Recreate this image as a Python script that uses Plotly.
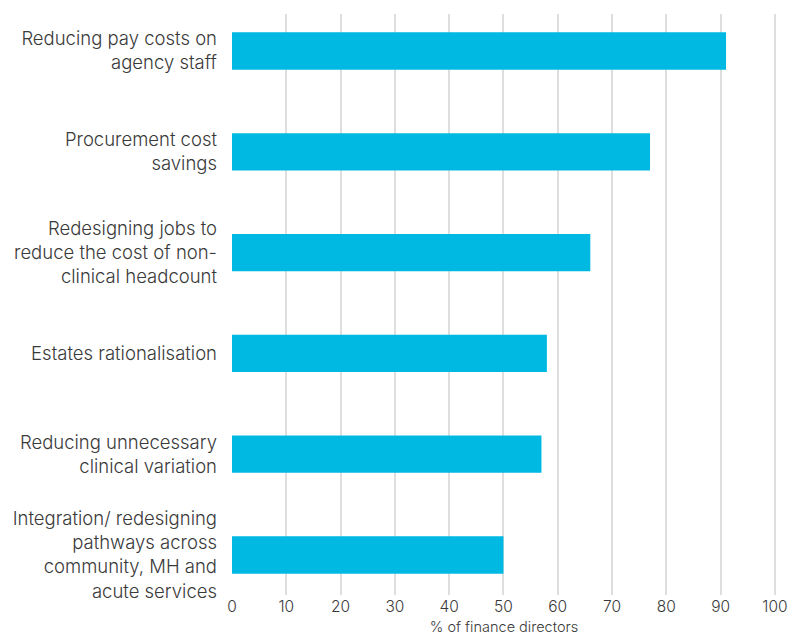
import plotly.graph_objects as go

# Cost-saving areas, listed top to bottom
categories = [
    "Reducing pay costs on<br>agency staff",
    "Procurement cost<br>savings",
    "Redesigning jobs to<br>reduce the cost of non-<br>clinical headcount",
    "Estates rationalisation",
    "Reducing unnecessary<br>clinical variation",
    "Integration/ redesigning<br>pathways across<br>community, MH and<br>acute services",
]
share_of_directors = [91, 77, 66, 58, 57, 50]
x_ticks = [0, 10, 20, 30, 40, 50, 60, 70, 80, 90, 100]

BAR_COLOR = "#00B9E3"
TEXT_COLOR = "#3a3a3a"
GRID_COLOR = "#dedede"
FONT = "Inter, Roboto, 'Liberation Sans', Arial, sans-serif"

fig = go.Figure(
    go.Bar(
        x=share_of_directors,
        y=categories,
        orientation="h",
        marker=dict(color=BAR_COLOR, line=dict(width=0)),
        hoverinfo="x+y",
    )
)

fig.update_layout(
    width=803,
    height=635,
    margin=dict(l=232, r=27, t=14, b=40),
    paper_bgcolor="white",
    plot_bgcolor="white",
    bargap=0.63,
    showlegend=False,
    font=dict(family=FONT, color=TEXT_COLOR, weight=300),
)

fig.update_xaxes(
    range=[0, 100.2],
    tickvals=x_ticks,
    ticktext=[str(v) for v in x_ticks],
    showgrid=True,
    gridcolor=GRID_COLOR,
    gridwidth=2,
    zeroline=False,
    showline=False,
    ticks="",
    ticklabelstandoff=0,
    automargin=False,
    tickfont=dict(size=15.5, family=FONT, color=TEXT_COLOR, weight=300),
    title=dict(
        text="% of finance directors",
        font=dict(size=14.5, family=FONT, color=TEXT_COLOR, weight=300),
        standoff=12,
    ),
    fixedrange=True,
)

fig.update_yaxes(
    type="category",
    categoryorder="array",
    categoryarray=categories,
    range=[5.397, -0.367],
    showgrid=False,
    zeroline=False,
    showline=False,
    ticks="",
    automargin=False,
    ticklabelstandoff=14,
    tickfont=dict(size=18.5, family=FONT, color=TEXT_COLOR, weight=300),
    fixedrange=True,
)

fig.write_html("out.html")
